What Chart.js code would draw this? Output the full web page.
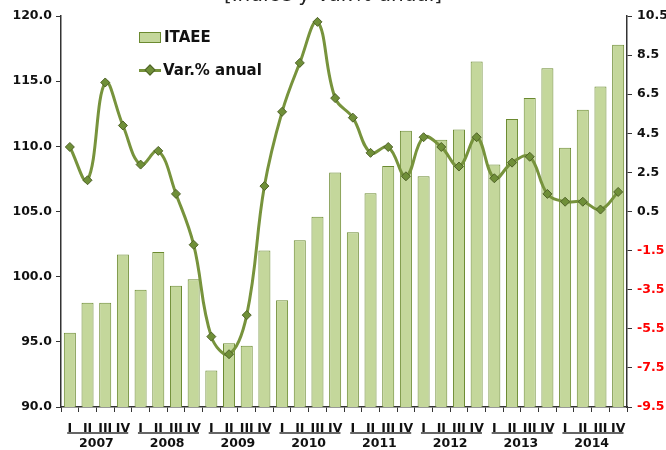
<!DOCTYPE html>
<html lang="es">
<head>
<meta charset="UTF-8">
<title>ITAEE</title>
<script src="https://cdn.jsdelivr.net/npm/chart.js@4.4.0/dist/chart.umd.min.js"></script>
<style>
  body { margin: 0; background: #fff; font-family: "DejaVu Sans", sans-serif; }
  #wrap { position: relative; width: 666px; height: 450px; overflow: hidden; }
  #title { position: absolute; top: -16px; left: 0; width: 666px; text-align: center; font-size: 20px; line-height: 20px; color: #222; }
  .leg { position: absolute; left: 139px; font-size: 15px; font-weight: bold; color: #111; display: flex; align-items: center; }
  .box { width: 20px; height: 9px; background: #c4d79b; border: 1px solid #6b8a30; margin-right: 3px; }
  .ln { position: relative; width: 22px; height: 3px; background: #77933c; margin-right: 2px; }
  .ln i { position: absolute; left: 7px; top: -3px; width: 8px; height: 8px; background: #6f8f38; border: 1px solid #4f6228; transform: rotate(45deg); box-sizing: border-box; }
</style>
</head>
<body>
<div id="wrap">
  <canvas id="c"></canvas>
  <div id="title">[Índice y Var.% anual]</div>
  <div class="leg" style="top:28px"><span class="box"></span>ITAEE</div>
  <div class="leg" style="top:61px"><span class="ln"><i></i></span>Var.% anual</div>
</div>
<script>
const quarters = ['I', 'II', 'III', 'IV'];
const years = ['2007', '2008', '2009', '2010', '2011', '2012', '2013', '2014'];
const itaee = [95.7, 98.0, 98.0, 101.7, 99.0, 101.9, 99.3, 99.8,
               92.8, 94.9, 94.7, 102.0, 98.2, 102.8, 104.6, 108.0,
               103.4, 106.4, 108.5, 111.2, 107.7, 110.5, 111.3, 116.5,
               108.6, 112.1, 113.7, 116.0, 109.9, 112.8, 114.6, 117.8];
const varAnual = [3.8, 2.1, 7.1, 4.9, 2.9, 3.6, 1.4, -1.2,
                  -5.9, -6.8, -4.8, 1.8, 5.6, 8.1, 10.2, 6.3,
                  5.3, 3.5, 3.8, 2.3, 4.3, 3.8, 2.8, 4.3,
                  2.2, 3.0, 3.3, 1.4, 1.0, 1.0, 0.6, 1.5];
const leftTicks = [90, 95, 100, 105, 110, 115, 120];
const rightTicks = [-9.5, -7.5, -5.5, -3.5, -1.5, 0.5, 2.5, 4.5, 6.5, 8.5, 10.5];

const labels = [];
years.forEach(y => quarters.forEach(q => labels.push(q)));

const font = { family: 'DejaVu Sans', size: 12.5, weight: 'bold' };
const axisColor = '#333';

// underline under each group of quarter labels
const groupLines = {
  id: 'groupLines',
  afterDraw(chart) {
    const x = chart.scales.x, ctx = chart.ctx;
    const step = x.getPixelForValue(1) - x.getPixelForValue(0);
    ctx.save();
    ctx.strokeStyle = '#333';
    ctx.lineWidth = 1.5;
    years.forEach((y, i) => {
      const a = x.getPixelForValue(i * 4) - step * 0.15;
      const b = x.getPixelForValue(i * 4 + 3) + step * 0.3;
      ctx.beginPath();
      ctx.moveTo(a, 433);
      ctx.lineTo(b, 433);
      ctx.stroke();
    });
    ctx.restore();
  }
};

new Chart(document.getElementById('c'), {
  data: {
    labels: labels,
    datasets: [
      {
        type: 'line',
        label: 'Var.% anual',
        data: varAnual,
        yAxisID: 'y1',
        borderColor: '#77933c',
        borderWidth: 3,
        tension: 0.4,
        pointStyle: 'rectRot',
        pointRadius: 4.5,
        pointBackgroundColor: '#6f8f38',
        pointBorderColor: '#4f6228',
        pointBorderWidth: 1,
        order: 0
      },
      {
        type: 'bar',
        label: 'ITAEE',
        data: itaee,
        yAxisID: 'y',
        backgroundColor: '#c4d79b',
        borderColor: '#6b8a30',
        borderWidth: 1,
        barPercentage: 0.68,
        categoryPercentage: 1,
        order: 1
      }
    ]
  },
  options: {
    responsive: true,
    maintainAspectRatio: false,
    animation: false,
    layout: { padding: { top: 16, left: 0, right: 0, bottom: 0 } },
    plugins: { legend: { display: false }, tooltip: { enabled: false } },
    scales: {
      x: {
        type: 'category',
        offset: true,
        grid: { offset: true, drawOnChartArea: false, tickLength: 5, color: axisColor },
        border: { color: axisColor, width: 1.5 },
        ticks: { font: font, color: '#111', padding: 9, maxRotation: 0, autoSkip: false },
        afterFit(s) { s.height = 27; }
      },
      x2: {
        type: 'category',
        labels: years,
        offset: true,
        position: 'bottom',
        grid: { display: false, drawTicks: false },
        border: { display: false },
        ticks: { font: font, color: '#111', padding: 2, maxRotation: 0 },
        afterFit(s) { s.height = 16; }
      },
      y: {
        position: 'left',
        min: 90,
        max: 120,
        afterBuildTicks(s) { s.ticks = leftTicks.map(v => ({ value: v })); },
        grid: { drawOnChartArea: false, tickLength: 5, color: axisColor },
        border: { color: axisColor, width: 1.5 },
        ticks: { font: font, color: '#111', padding: 4, callback: v => v.toFixed(1) },
        afterFit(s) { s.width = 61; }
      },
      y1: {
        position: 'right',
        min: -9.5,
        max: 10.5,
        afterBuildTicks(s) { s.ticks = rightTicks.map(v => ({ value: v })); },
        grid: { drawOnChartArea: false, tickLength: 5, color: axisColor },
        border: { color: axisColor, width: 1.5 },
        ticks: {
          font: font,
          padding: 5,
          color: c => (c.tick && c.tick.value < 0 ? '#ff0000' : '#111'),
          callback: v => v.toFixed(1)
        },
        afterFit(s) { s.width = 39; }
      }
    }
  },
  plugins: [groupLines]
});
</script>
</body>
</html>
